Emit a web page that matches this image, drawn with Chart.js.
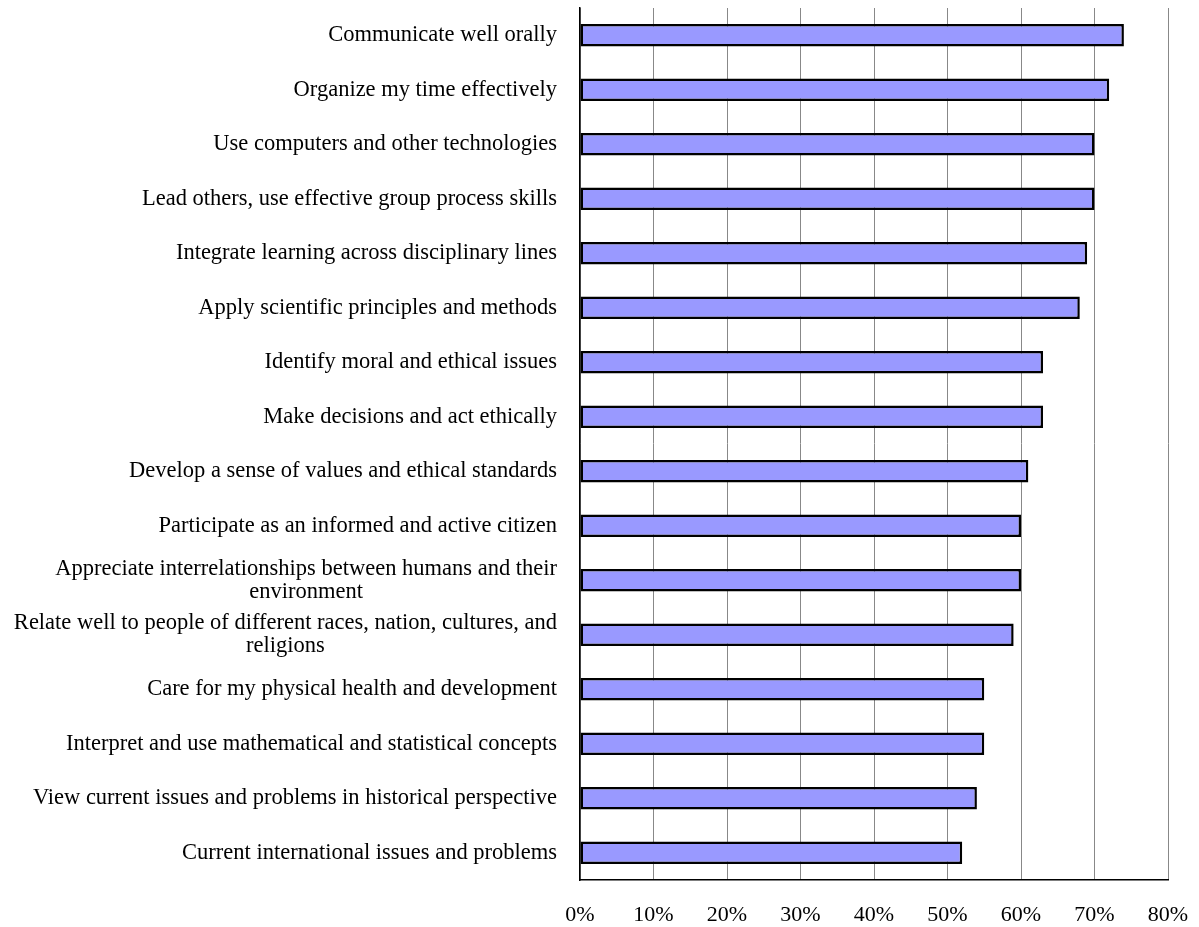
<!DOCTYPE html>
<html>
<head>
<meta charset="utf-8">
<script src="https://cdn.jsdelivr.net/npm/chart.js@4"></script>
<style>
  body { margin: 0; background: #fff; }
  #wrap { width: 1199px; height: 927px; }
</style>
</head>
<body>
<div id="wrap"><canvas id="skillsChart" width="1199" height="927"></canvas></div>
<script>
// categories, top to bottom (multi-line labels as arrays)
const skills = [
    'Communicate well orally',
    'Organize my time effectively',
    'Use computers and other technologies',
    'Lead others, use effective group process skills',
    'Integrate learning across disciplinary lines',
    'Apply scientific principles and methods',
    'Identify moral and ethical issues',
    'Make decisions and act ethically',
    'Develop a sense of values and ethical standards',
    'Participate as an informed and active citizen',
    ['Appreciate interrelationships between humans and their', 'environment'],
    ['Relate well to people of different races, nation, cultures, and', 'religions'],
    'Care for my physical health and development',
    'Interpret and use mathematical and statistical concepts',
    'View current issues and problems in historical perspective',
    'Current international issues and problems'
];
const percentages = [74, 72, 70, 70, 69, 68, 63, 63, 61, 60, 60, 59, 55, 55, 54, 52];
const xTicks = [0, 10, 20, 30, 40, 50, 60, 70, 80];

const FONT = '"Liberation Serif", "Times New Roman", serif';
const LABEL_SIZE = 22.5;
const PLOT_LEFT = 580;

// draws the category labels: each block right-aligned to the axis, lines centred in the block
const labelPlugin = {
    id: 'blockLabels',
    afterDraw(chart) {
        const ctx = chart.ctx;
        const yScale = chart.scales.y;
        ctx.save();
        ctx.font = LABEL_SIZE + 'px ' + FONT;
        ctx.fillStyle = '#000';
        ctx.textBaseline = 'middle';
        ctx.textAlign = 'center';
        const right = yScale.right - 23;
        const lineH = 23;
        skills.forEach((label, i) => {
            const lines = Array.isArray(label) ? label : [label];
            const w = Math.max(...lines.map(l => ctx.measureText(l).width));
            const cx = right - w / 2;
            const cy = yScale.getPixelForTick(i);
            const top = cy - (lines.length - 1) * lineH / 2;
            lines.forEach((l, j) => ctx.fillText(l, cx, top + j * lineH));
        });
        ctx.restore();
    }
};

new Chart(document.getElementById('skillsChart').getContext('2d'), {
    type: 'bar',
    data: {
        labels: skills,
        datasets: [{
            data: percentages,
            backgroundColor: '#9999ff',
            borderColor: '#000',
            borderWidth: 2.5,
            borderSkipped: false,
            barPercentage: 0.41,
            categoryPercentage: 1.0
        }]
    },
    options: {
        indexAxis: 'y',
        responsive: false,
        animation: false,
        layout: { padding: 0 },
        plugins: {
            legend: { display: false },
            tooltip: { enabled: false }
        },
        scales: {
            x: {
                min: 0,
                max: 80,
                afterBuildTicks(scale) {
                    scale.ticks = xTicks.map(v => ({ value: v }));
                },
                afterFit(scale) {
                    scale.height = 47;
                    scale.paddingLeft = 0;
                    scale.paddingRight = 31;
                },
                ticks: {
                    callback: v => v + '%',
                    color: '#000',
                    font: { family: FONT, size: 22 },
                    padding: 22,
                    maxRotation: 0
                },
                grid: {
                    color: '#888',
                    lineWidth: 1,
                    drawTicks: false
                },
                border: { color: '#000', width: 1.5 }
            },
            y: {
                afterFit(scale) {
                    scale.width = PLOT_LEFT;
                    scale.paddingTop = 8;
                    scale.paddingBottom = 0;
                },
                ticks: { color: 'rgba(0,0,0,0)', font: { family: FONT, size: 12 } },
                grid: { display: false, drawTicks: false },
                border: { color: '#000', width: 1.5 }
            }
        }
    },
    plugins: [labelPlugin]
});
</script>
</body>
</html>
